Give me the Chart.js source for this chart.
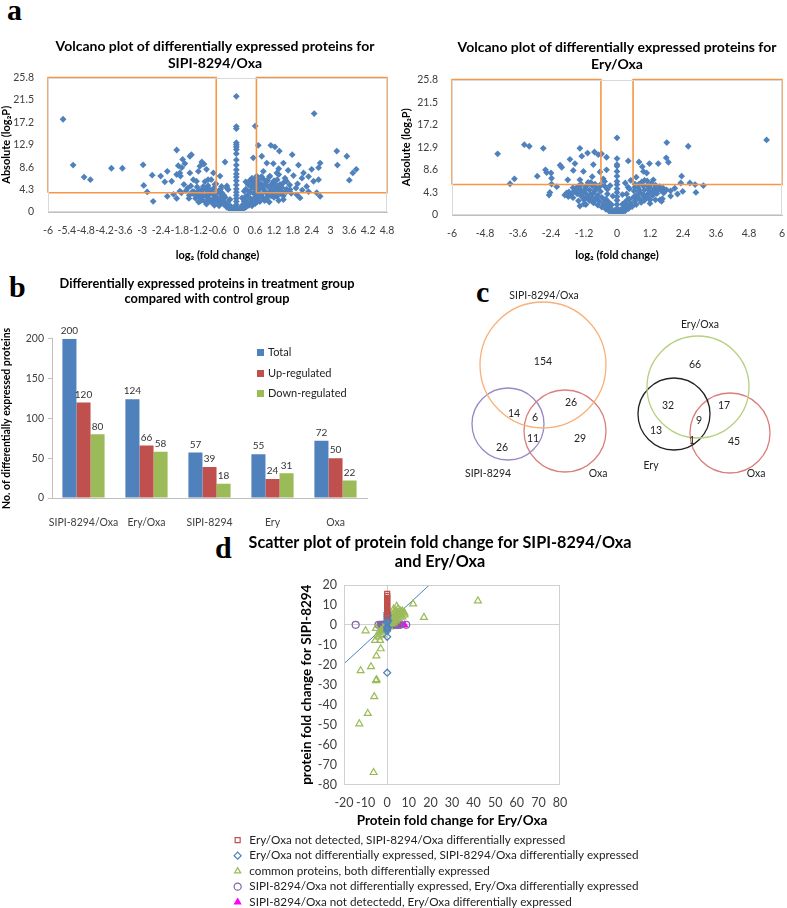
<!DOCTYPE html>
<html>
<head>
<meta charset="utf-8">
<script src="https://cdn.jsdelivr.net/npm/chart.js@4.4.0/dist/chart.umd.min.js"></script>
<style>
  body { margin: 0; width: 787px; height: 908px; position: relative; background: #fff; overflow: hidden; font-family: Lato, 'Open Sans', sans-serif; }
  canvas { position: absolute; }
  .tag { position: absolute; font-family: 'Liberation Serif', 'DejaVu Serif', serif; font-weight: bold; font-size: 30px; line-height: 1; color: #000; }
  #legB { position: absolute; left: 257px; top: 342px; font-size: 11px; color: #222; }
  #legB div { height: 20.5px; line-height: 20.5px; white-space: nowrap; }
  #legB span { display: inline-block; width: 7px; height: 7px; margin-right: 4px; vertical-align: 0px; }
</style>
</head>
<body>
<div class="tag" style="left:7px;top:-5px">a</div>
<div class="tag" style="left:9px;top:272px">b</div>
<div class="tag" style="left:476px;top:277px">c</div>
<div class="tag" style="left:215px;top:533px">d</div>

<canvas id="volcL" width="430" height="238" style="left:0;top:28px"></canvas>
<canvas id="volcR" width="434" height="238" style="left:400px;top:28px"></canvas>
<canvas id="bars" width="414" height="270" style="left:0;top:262px"></canvas>
<canvas id="venn" width="387" height="200" style="left:400px;top:280px"></canvas>
<canvas id="scat" width="424" height="396" style="left:228px;top:522px"></canvas>

<div id="legB">
  <div><span style="background:#4F81BD"></span>Total</div>
  <div><span style="background:#C0504D"></span>Up-regulated</div>
  <div><span style="background:#9BBB59"></span>Down-regulated</div>
</div>

<script>
// ---- data ----
const volcTicksY = [0, 4.3, 8.6, 12.9, 17.2, 21.5, 25.8];
const volcLeftTicksX = [-6, -5.4, -4.8, -4.2, -3.6, -3, -2.4, -1.8, -1.2, -0.6, 0, 0.6, 1.2, 1.8, 2.4, 3, 3.6, 4.2, 4.8];
const volcRightTicksX = [-6, -4.8, -3.6, -2.4, -1.2, 0, 1.2, 2.4, 3.6, 4.8, 6];

// SIPI-8294/Oxa volcano (log2 fold change, |log2 P|)
const volcLeftOutliers = [
  [-5.52,17.8],[-5.2,9.0],[-4.85,6.7],[-4.65,6.2],[-3.98,8.4],[-3.63,8.4],[-2.97,9.05],[-2.95,5.1],[-2.84,3.85],
  [-2.68,7.06],[-2.65,2.05],[-2.41,6.9],[-2.28,5.8],[-2.2,7.8],[-1.9,11.9],[-2.06,5.9],[-1.85,8.9],[-1.8,7.5],
  [-1.71,10.1],[-1.64,9.3],[-1.74,8.5],[-1.78,6.9],[-1.67,5.3],[-1.8,4.0],[-1.48,10.7],[-1.43,11.0],[-1.48,7.5],
  [-1.37,6.2],[-1.51,2.6],[-1.27,5.9],[-1.21,7.8],[-1.1,9.6],[-1.03,9.2],[-1.16,8.8],[-0.95,8.2],[-0.9,6.2],
  [-1.05,4.9],[-0.84,4.0],[-0.95,3.0],[-0.73,7.5],[-0.68,5.3],[-0.63,3.7],[-1.32,3.3],[-1.16,2.05],[-0.9,2.05],
  [-0.52,6.9],[-0.36,9.6],[-0.47,4.9],[-0.41,3.0],[-0.26,4.3],[-1.55,4.6],[-1.4,3.9],[-2.0,3.4],[-1.9,7.2],
  [0.6,16.5],[0.7,12.8],[1.1,12.8],[1.23,12.5],[1.37,11.7],[1.78,11.0],[2.48,18.9],[3.2,11.7],[3.52,10.7],
  [3.22,9.0],[2.67,9.4],[2.62,8.5],[2.4,8.2],[1.98,9.0],[1.5,9.4],[1.18,9.3],[0.97,9.4],[0.81,10.7],[0.54,10.4],
  [3.82,8.2],[3.71,7.5],[3.6,6.1],[2.14,7.5],[1.82,7.0],[1.6,5.9],[1.39,5.3],[2.46,5.9],[2.24,4.9],[2.56,3.7],
  [1.93,3.3],[1.71,4.3],[2.62,6.2],[2.09,6.5],[1.29,7.5],[1.07,6.9],[0.86,7.8],[0.97,5.9],[1.18,4.0],[0.76,4.9],
  [0.7,3.0],[0.97,2.4],[1.5,2.4],[2.03,2.7],[2.67,3.0],[1.35,8.3],[1.65,8.0],[2.3,6.8],[1.95,5.4]
];
const volcLeftCenter = [0.3,0.8,1.4,2,2.6,3.2,3.8,4.4,5.2,6,6.7,7.3,8.1,9,10,11.2,12,12.5,12.9,13.3,16,16.4,22.2];
const volcLeftCluster = [
  [-0.05,0.1],[0.08,0.2],[-0.12,0.35],[0.15,0.3],[0.02,0.5],[-0.22,0.6],[0.25,0.7],[-0.3,0.9],[0.12,0.8],[0.32,1.0],
  [-0.18,1.1],[0.4,1.3],[-0.38,1.35],[0.22,1.5],[-0.5,1.6],[0.48,1.7],[-0.28,1.8],[0.35,1.9],[-0.62,2.0],[0.58,2.1],
  [-0.45,2.2],[0.28,2.3],[-0.75,2.35],[0.7,2.4],[-0.55,2.6],[0.45,2.55],[0.85,2.7],[-0.9,2.75],[-0.35,2.8],[0.62,2.9],
  [1.0,3.0],[-1.05,3.05],[-0.68,3.1],[0.35,3.15],[0.8,3.3],[-0.48,3.35],[1.15,3.4],[-1.2,3.5],[-0.85,3.55],[0.55,3.6],
  [1.3,3.7],[0.95,3.75],[-0.6,3.8],[-1.35,3.9],[0.4,3.95],[1.45,4.0],[0.7,4.1],[-0.95,4.15],[1.1,4.25],[-1.1,4.3],
  [0.3,4.35],[1.6,4.4],[0.85,4.5],[-0.72,4.55],[0.5,4.7],[1.25,4.75],[-1.25,4.8],[1.0,4.9],[0.65,5.0],[-0.9,5.05],
  [1.4,5.1],[0.38,5.2],[0.8,5.35],[-0.65,5.4],[1.15,5.5],[0.55,5.6],[0.95,5.8],[-1.0,5.85],[0.42,6.0],[0.7,6.1],
  [1.3,6.2],[0.85,6.4],[0.5,6.5],[1.05,6.7],[0.65,6.9],[-0.8,6.2],[-0.55,4.1],[-0.4,3.2],[-0.2,2.4],[0.18,2.7],
  [0.2,1.2],[-0.1,0.8],[1.75,3.6],[1.5,3.1],[-1.5,3.2],[-1.6,4.1],[-1.3,2.6],[-1.1,2.3],[-0.8,1.9],[0.9,2.2],
  [1.2,2.8],[0.6,1.6],[-0.7,1.3],[1.7,5.2],[1.9,4.6],[-1.45,5.0],[0.25,4.0],[-0.3,5.0],[0.3,5.8],[1.55,6.5],
  [1.35,7.2],[-1.75,3.7],[2.1,4.2],[2.3,3.9],[-2.2,3.0],[-1.9,2.6],[-0.95,1.5],[1.35,2.2],[1.05,1.9],[-1.2,1.9],
  [-1.0,2.0],[-0.85,2.5],[-1.15,2.7],[-0.65,2.8],[-1.25,3.2],[-0.95,3.3],[-0.75,3.4],[-1.4,3.6],[-1.1,3.7],[-0.8,4.0],
  [-1.2,4.1],[-0.5,4.4],[-0.9,4.6],[-1.05,4.5],[-0.6,2.4],[-0.4,2.0],[-0.3,1.5],[-0.55,1.2],[-0.45,3.6],[-0.3,4.6],
  [0.5,1.2],[0.65,1.9],[0.75,2.0],[0.5,2.4],[0.95,2.6],[1.1,3.1],[0.7,3.4],[0.45,3.8],[1.05,3.6],[0.9,4.0],
  [1.2,4.4],[0.6,4.4],[1.35,4.5],[0.75,4.7],[1.1,5.1],[0.9,5.2],[1.25,5.3],[0.5,5.4],[0.7,5.6],[1.0,6.0],
  [0.6,6.3],[1.2,6.0],[0.8,6.8],[1.5,5.6],[1.45,4.7],[1.6,3.9],[1.3,3.0],[1.45,3.4],[0.3,3.0],[0.25,2.0]
];

// Ery/Oxa volcano
const volcRightOutliers = [
  [-4.34,11.65],[-3.89,5.95],[-3.73,6.9],[-3.37,13.4],[-3.19,13.1],[-2.68,12.7],[-2.9,7.4],[-2.6,8.6],[-2.56,8.1],
  [-2.4,8.0],[-2.38,7.0],[-2.47,3.8],[-2.44,4.3],[-2.38,5.9],[-2.19,5.4],[-2.07,9.5],[-2.01,9.1],[-1.79,6.7],
  [-1.77,3.5],[-1.71,10.6],[-1.53,9.8],[-1.59,8.5],[-1.83,4.2],[-1.35,12.7],[-1.28,11.2],[-1.22,8.3],[-1.35,6.7],
  [-1.41,5.4],[-1.35,1.7],[-1.13,2.0],[-1.07,11.8],[-0.86,9.6],[-0.82,12.0],[-0.68,11.5],[-0.56,11.65],[-0.62,8.2],
  [-0.38,11.0],[-0.38,8.6],[-0.9,7.3],[-1.05,6.2],[-0.5,6.9],
  [0.41,10.3],[0.8,10.1],[0.92,9.2],[0.96,8.3],[1.08,8.0],[1.5,9.8],[1.18,9.8],[1.81,13.8],[1.79,10.9],[1.87,10.05],
  [2.59,13.1],[2.35,7.4],[2.32,6.1],[2.65,6.1],[2.39,4.5],[2.84,5.8],[2.87,4.3],[3.14,5.6],[5.44,14.3],[2.1,5.1],
  [1.68,5.1],[1.56,2.9],[1.62,2.6],[1.32,6.7],[0.7,7.2],[1.0,6.6],[1.95,4.6],[2.2,4.0]
];
const volcRightCenter = [0.5,1.2,2,2.8,3.5,4.3,5,5.8,6.4,7.4,8.3,9.3,9.6,10.75,14.7];
const volcRightCluster = [
  [-0.05,0.15],[0.06,0.25],[-0.15,0.4],[0.18,0.45],[0,0.6],[-0.28,0.7],[0.3,0.8],[-0.1,0.9],[0.12,1.0],[-0.4,1.1],
  [0.42,1.2],[-0.25,1.35],[0.25,1.45],[-0.55,1.5],[0.55,1.6],[-0.38,1.75],[0.38,1.85],[-0.7,1.9],[0.7,2.0],[-0.5,2.15],
  [0.5,2.2],[-0.85,2.3],[0.88,2.4],[-0.3,2.45],[0.3,2.5],[-0.65,2.6],[0.65,2.65],[-1.0,2.75],[1.0,2.8],[-0.45,2.9],
  [0.45,3.0],[-0.8,3.05],[0.82,3.1],[-1.15,3.2],[1.15,3.25],[-0.55,3.35],[0.6,3.4],[-0.95,3.5],[0.98,3.55],[-1.3,3.6],
  [1.3,3.7],[-0.7,3.75],[0.72,3.8],[-1.1,3.9],[1.12,4.0],[-1.45,4.05],[1.45,4.1],[-0.85,4.2],[0.85,4.25],[-1.25,4.35],
  [1.3,4.4],[-0.6,4.5],[0.62,4.55],[-1.55,4.6],[1.6,4.65],[-1.0,4.75],[1.0,4.8],[-1.35,4.95],[1.35,5.0],[-0.75,5.1],
  [0.78,5.15],[-1.15,5.3],[1.18,5.35],[-0.9,5.55],[0.95,5.6],[-1.6,5.2],[1.55,5.4],[-0.6,5.8],[0.65,5.9],[-1.3,5.85],
  [1.25,6.0],[-0.95,6.2],[0.9,6.3],[-0.45,6.4],[0.5,6.6],[1.1,6.5],[-1.75,4.4],[1.8,4.8],[-1.9,3.8],[1.95,3.6],
  [-1.6,3.3],[1.65,3.1],[-1.4,2.7],[1.4,2.9],[-1.2,2.1],[1.2,2.2],[-0.2,1.95],[0.2,2.05],[-0.15,3.6],[0.2,3.9],
  [-0.35,4.9],[0.4,5.3],[-0.25,5.6],[0.3,6.1],
  [-1.2,2.9],[-0.9,2.6],[-1.05,3.4],[-0.75,3.2],[-1.25,4.1],[-0.95,3.9],[-1.4,4.6],[-1.15,4.8],[-0.8,4.7],[-1.5,5.0],
  [-1.1,5.6],[-0.8,5.9],[-1.4,5.5],[-0.65,5.3],[-0.4,3.0],[-0.35,4.0],[-0.45,5.5],[1.2,2.9],[0.9,2.6],[1.05,3.4],
  [0.75,3.2],[1.25,4.1],[0.95,3.9],[1.4,4.6],[1.15,4.8],[0.8,4.7],[1.5,5.0],[1.1,5.6],[0.8,5.9],[1.4,5.7],
  [0.65,5.3],[0.4,3.0],[0.35,4.0],[0.45,5.0],[1.7,4.2],[-1.65,4.0]
];
// cut-offs (fold change low, fold change high, significance) that the orange boxes mark
const volcLeftCut = [-0.64, 0.64, 3.7];
const volcRightCut = [-0.585, 0.585, 5.8];

// panel b
const barCats = ['SIPI-8294/Oxa', 'Ery/Oxa', 'SIPI-8294', 'Ery', 'Oxa'];
const barTotal = [200, 124, 57, 55, 72];
const barUp = [120, 66, 39, 24, 50];
const barDown = [80, 58, 18, 31, 22];

// panel c: region counts
const vennLeftCounts = [154, 14, 6, 26, 26, 11, 29];
const vennRightCounts = [66, 32, 17, 13, 9, 1, 45];
const vennNames = ['SIPI-8294/Oxa', 'SIPI-8294', 'Oxa', 'Ery/Oxa', 'Ery', 'Oxa'];

// panel d: [Ery/Oxa fold change, SIPI-8294/Oxa fold change]
const scatNotDetEry = [[0,4.5],[0,5.5],[0,6.5],[0,7.5],[0,8.5],[0,9.5],[0,10.5],[0,11.5],[0,12.5],[0,13.5],[0,14.5],[0,15.5]];
const scatNotDiffEry = [[0,-3],[0,-2],[0,-1],[0,1],[0,2],[0,3],[0,4],[0,5],[0,6],[0.3,-1.5],[0.5,2],[0.2,4.5],[0,-6],[0,-24]];
const scatCommon = [
  [-10,-3],[4.4,9.3],[12,10.5],[17,3.7],[42,12],[-5.6,-7.8],[-3.3,-7.8],[-5.2,-1.8],[-3,-12],[-5,-15.6],
  [-12.3,-23],[-7.5,-21],[-5.2,-28],[-4.9,-27.5],[-6,-36],[-9,-44.4],[-12.9,-49.6],[-6.3,-74],
  [-4,-4],[-3,-3],[-2,-2],[-1,-1],[-2,-3],[-3,-5],[-1,-3],[1,1],[1,2],[2,2],[2,3],[3,3],[3,4],[4,4],[4,5],
  [5,5],[5,6],[6,6],[6,7],[7,7],[7,6],[8,6],[3,2],[4,3],[2,1],[6,5],[5,8],[3,6],[-4,-6],[-2,-5],[-1,-2],
  [1,-1],[2,0.5],[8,5],[6,4],[5,3],[4,2],[3,1],[7,4],[2,4],[4,7],[3,8]
];
const scatNotDiffSipi = [[-14.6,0],[-4,0],[-3,0],[-2.5,0],[-2,0],[-1.5,0],[-1,0],[1,0],[1.5,0],[2,0],[2.5,0],[3,0],[3.5,0],[4,0],[5,0],[6,0],[8.8,0]];
const scatNotDetSipi = [[2,0],[3,0],[4,0],[5,0],[6,0],[7,0],[8,0]];
const trendX = [-20, 19.6];
const trendY = [-19.5, 20];
const scatLabels = [
  'Ery/Oxa not detected, SIPI-8294/Oxa differentially expressed',
  'Ery/Oxa not differentially expressed, SIPI-8294/Oxa differentially expressed',
  'common proteins, both differentially expressed',
  'SIPI-8294/Oxa not differentially expressed, Ery/Oxa differentially expressed',
  'SIPI-8294/Oxa not detectedd, Ery/Oxa differentially expressed'
];

// ---- drawing ----
const F = "Lato, 'Open Sans', sans-serif";
const BLUE = '#4F81BD', RED = '#C0504D', GREEN = '#9BBB59', PURPLE = '#8064A2', ORANGE = '#F79646', MAGENTA = '#FF00FF';
Chart.defaults.font.family = F;
Chart.defaults.color = '#404040';

const fmt = v => String(Math.round(v * 10) / 10);
const toXY = arr => arr.map(p => ({ x: p[0], y: p[1] }));
// empty axis on the right, only to hold the plot area off the canvas edge
const spacer = (w) => ({ position: 'right', afterFit: a => { a.width = w; }, ticks: { display: false }, grid: { display: false }, border: { display: false } });

const frame = (color) => ({
  id: 'frame',
  afterDraw(c) {
    const a = c.chartArea, g = c.ctx;
    g.save();
    g.strokeStyle = color;
    g.lineWidth = 1;
    g.strokeRect(Math.round(a.left) + 0.5, Math.round(a.top) + 0.5, Math.round(a.width) - 1, Math.round(a.height) - 1);
    g.restore();
  }
});

function volcano(id, pts, xTicks, cut, title, lay) {
  const top = volcTicksY[volcTicksY.length - 1];
  const x0 = xTicks[0], x1 = xTicks[xTicks.length - 1];
  const box = (a, b) => [{x:a,y:cut[2]},{x:a,y:top},{x:b,y:top},{x:b,y:cut[2]},{x:a,y:cut[2]}];
  const lineDs = (d) => ({ type: 'line', data: d, borderColor: ORANGE, borderWidth: 1.6, pointRadius: 0, fill: false, order: 0, clip: false });
  return new Chart(document.getElementById(id), {
    type: 'scatter',
    data: {
      datasets: [
        { data: toXY(pts), pointStyle: 'rectRot', pointRadius: 3.4, backgroundColor: BLUE, borderColor: BLUE, borderWidth: 0, order: 1 },
        lineDs(box(x0, cut[0])),
        lineDs(box(cut[1], x1))
      ]
    },
    options: {
      responsive: false, animation: false, events: [],
      layout: { padding: 0 },
      plugins: {
        legend: { display: false }, tooltip: { enabled: false },
        title: { display: true, text: title, color: '#000', font: { size: 14, weight: 'bold' }, padding: { top: lay.tt, bottom: lay.tb }, lineHeight: 1.25 }
      },
      scales: {
        x: {
          type: 'linear', min: x0, max: x1,
          afterBuildTicks: a => { a.ticks = xTicks.map(v => ({ value: v })); },
          afterFit: a => { a.height = lay.xh; },
          ticks: { autoSkip: false, maxRotation: 0, font: { size: 10.5 }, callback: v => fmt(v), padding: 4 },
          grid: { display: false }, border: { color: '#BFBFBF' },
          title: { display: true, text: 'log₂ (fold change)', color: '#000', font: { size: 11, weight: 'bold' }, padding: { top: 6, bottom: 4 } }
        },
        y: {
          min: 0, max: top,
          afterBuildTicks: a => { a.ticks = volcTicksY.map(v => ({ value: v })); },
          afterFit: a => { a.width = lay.yw; },
          ticks: { autoSkip: false, font: { size: 10.5 }, callback: v => fmt(v), padding: 6 },
          grid: { display: false }, border: { display: false },
          title: { display: true, text: 'Absolute (log₂P)', color: '#000', font: { size: 11, weight: 'bold' }, padding: { top: 0, bottom: 0 } }
        },
        pad: spacer(lay.sp)
      }
    },
    plugins: [frame('#D9D9D9')]
  });
}

volcano('volcL', [...volcLeftOutliers, ...volcLeftCenter.map(y => [0, y]), ...volcLeftCluster],
  volcLeftTicksX, volcLeftCut,
  ['Volcano plot of differentially expressed proteins for', 'SIPI-8294/Oxa'],
  { tt: 10, tb: 6, xh: 54, yw: 48, sp: 43 });
volcano('volcR', [...volcRightOutliers, ...volcRightCenter.map(y => [0, y]), ...volcRightCluster],
  volcRightTicksX, volcRightCut,
  ['Volcano plot of differentially expressed proteins for', 'Ery/Oxa'],
  { tt: 11, tb: 7, xh: 51, yw: 52, sp: 52 });

// panel b
const barValueLabels = {
  id: 'barValueLabels',
  afterDatasetsDraw(c) {
    const g = c.ctx;
    g.save();
    g.font = '10px ' + F;
    g.fillStyle = '#333';
    g.textAlign = 'center';
    g.textBaseline = 'bottom';
    c.data.datasets.forEach((ds, i) => {
      c.getDatasetMeta(i).data.forEach((el, j) => g.fillText(ds.data[j], el.x, el.y - 3));
    });
    g.restore();
  }
};
new Chart(document.getElementById('bars'), {
  type: 'bar',
  data: {
    labels: barCats,
    datasets: [
      { label: 'Total', data: barTotal, backgroundColor: BLUE },
      { label: 'Up-regulated', data: barUp, backgroundColor: RED },
      { label: 'Down-regulated', data: barDown, backgroundColor: GREEN }
    ]
  },
  options: {
    responsive: false, animation: false, events: [],
    categoryPercentage: 0.67, barPercentage: 1,
    layout: { padding: 0 },
    plugins: {
      legend: { display: false }, tooltip: { enabled: false },
      title: { display: true, text: ['Differentially expressed proteins in treatment group', 'compared with control group'], color: '#000', font: { size: 12.8, weight: 'bold' }, padding: { top: 14, bottom: 32 }, lineHeight: 1.3 }
    },
    scales: {
      x: {
        grid: { display: false }, border: { color: '#BFBFBF' },
        afterFit: a => { a.height = 34; },
        ticks: { font: { size: 10.5 }, padding: 10, maxRotation: 0, autoSkip: false }
      },
      y: {
        min: 0, max: 200, ticks: { stepSize: 50, font: { size: 10.5 }, padding: 4 },
        afterFit: a => { a.width = 52; },
        grid: { drawOnChartArea: false, tickLength: 4, color: '#BFBFBF' }, border: { color: '#BFBFBF' },
        title: { display: true, text: 'No. of differentially expressed proteins', color: '#000', font: { size: 10.5, weight: 'bold' }, padding: { top: 0, bottom: 4 } }
      },
      pad: Object.assign(spacer(47), { type: 'linear' })
    }
  },
  plugins: [barValueLabels]
});

// panel c: Venn diagrams, geometry in canvas units
const vennCircles = [
  { x: 143, y: 85, r: 63, c: '#F9B07A' },
  { x: 108, y: 144, r: 36, c: '#9A87C6' },
  { x: 165, y: 151, r: 41, c: '#D97E7B' },
  { x: 298, y: 107, r: 51, c: '#B7CF80' },
  { x: 274, y: 134, r: 36, c: '#222222' },
  { x: 330, y: 153, r: 40, c: '#D97E7B' }
];
const vennNamePos = [[144, 16], [88, 194], [198, 194], [300, 45], [251, 186], [356, 194]];
const vennLeftPos = [[143, 82], [114, 134], [135, 138], [171, 123], [102, 168], [133, 159], [180, 159]];
const vennRightPos = [[295, 85], [268, 126], [324, 126], [256, 151], [299, 141], [292, 161], [334, 162]];
const vennText = {
  id: 'vennText',
  afterDatasetsDraw(c) {
    const g = c.ctx, sx = c.scales.x, sy = c.scales.y;
    g.save();
    g.font = '10.5px ' + F;
    g.fillStyle = '#222';
    g.textAlign = 'center';
    g.textBaseline = 'middle';
    const put = (t, p) => g.fillText(t, sx.getPixelForValue(p[0]), sy.getPixelForValue(p[1]));
    vennNames.forEach((t, i) => put(t, vennNamePos[i]));
    vennLeftCounts.forEach((t, i) => put(t, vennLeftPos[i]));
    vennRightCounts.forEach((t, i) => put(t, vennRightPos[i]));
    g.restore();
  }
};
new Chart(document.getElementById('venn'), {
  type: 'bubble',
  data: {
    datasets: vennCircles.map(v => ({ data: [{ x: v.x, y: v.y, r: v.r }], backgroundColor: 'rgba(0,0,0,0)', borderColor: v.c, borderWidth: 1.3, clip: false }))
  },
  options: {
    responsive: false, animation: false, events: [],
    layout: { padding: 0, autoPadding: false },
    plugins: { legend: { display: false }, tooltip: { enabled: false } },
    scales: {
      x: { type: 'linear', min: 0, max: 387, display: false },
      y: { type: 'linear', min: 0, max: 200, reverse: true, display: false }
    }
  },
  plugins: [vennText]
});

// panel d
const zeroLine = ctx => (ctx.tick && ctx.tick.value === 0) ? '#D0D0D0' : 'rgba(0,0,0,0)';
const mk = (label, pts, style, color, fill, r) => ({
  label, data: toXY(pts), pointStyle: style, pointRadius: r,
  borderColor: color, backgroundColor: fill ? color : 'rgba(255,255,255,0)', borderWidth: 1.2
});
new Chart(document.getElementById('scat'), {
  type: 'scatter',
  data: {
    datasets: [
      mk(scatLabels[0], scatNotDetEry, 'rect', RED, false, 3.5),
      mk(scatLabels[1], scatNotDiffEry, 'rectRot', BLUE, false, 3.5),
      mk(scatLabels[2], scatCommon, 'triangle', GREEN, false, 4),
      mk(scatLabels[3], scatNotDiffSipi, 'circle', PURPLE, false, 3.5),
      mk(scatLabels[4], scatNotDetSipi, 'triangle', MAGENTA, true, 3.5),
      { type: 'line', label: 'trend', data: trendX.map((x, i) => ({ x, y: trendY[i] })), borderColor: BLUE, borderWidth: 1, pointRadius: 0, fill: false }
    ]
  },
  options: {
    responsive: false, animation: false, events: [],
    layout: { padding: 0 },
    plugins: {
      tooltip: { enabled: false },
      title: { display: true, text: ['Scatter plot of protein fold change for SIPI-8294/Oxa', 'and Ery/Oxa'], color: '#000', font: { size: 16.2, weight: 'bold' }, padding: { top: 11, bottom: 13 }, lineHeight: 1.3 },
      legend: {
        position: 'bottom', align: 'start',
        labels: { usePointStyle: true, boxHeight: 5, padding: 3.8, color: '#222', font: { size: 11.7 }, filter: it => it.datasetIndex < 5 }
      }
    },
    scales: {
      x: {
        type: 'linear', min: -20, max: 80, ticks: { stepSize: 10, autoSkip: false, font: { size: 12.5 }, padding: 11, maxRotation: 0 },
        afterFit: a => { a.height = 46; },
        grid: { color: zeroLine, drawTicks: false }, border: { display: false },
        title: { display: true, text: 'Protein fold change for Ery/Oxa', color: '#000', font: { size: 13.5, weight: 'bold' }, padding: { top: 2, bottom: 2 } }
      },
      y: {
        min: -80, max: 20, ticks: { stepSize: 10, font: { size: 12.5 }, padding: 7 },
        afterFit: a => { a.width = 116; },
        grid: { color: zeroLine, drawTicks: false }, border: { display: false },
        title: { display: true, text: 'protein fold change for SIPI-8294', color: '#000', font: { size: 13.5, weight: 'bold' }, padding: { top: 71, bottom: 0 } }
      },
      pad: spacer(92)
    }
  },
  plugins: [frame('#D0D0D0')]
});
</script>
</body>
</html>
